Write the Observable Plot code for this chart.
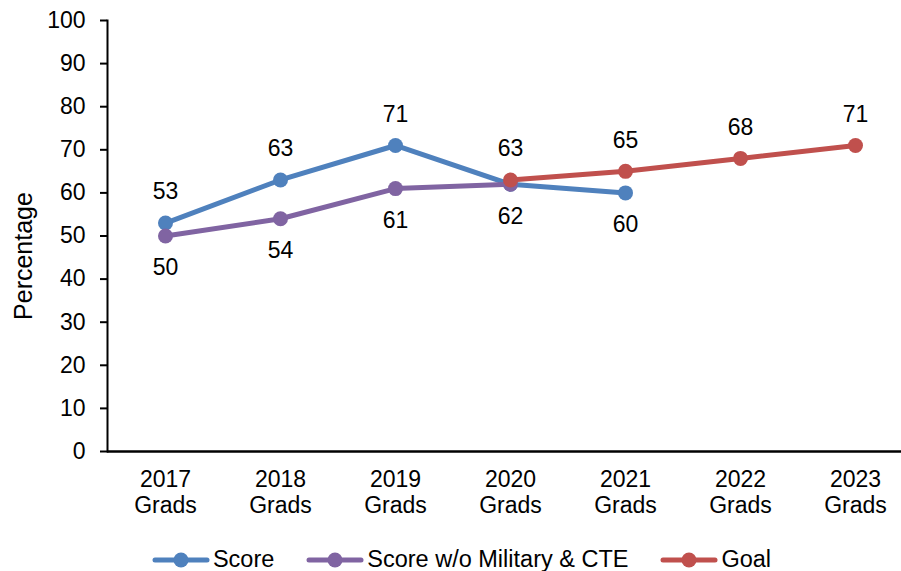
<!DOCTYPE html>
<html><head><meta charset="utf-8">
<script src="https://cdn.jsdelivr.net/npm/d3@7"></script>
<script src="https://cdn.jsdelivr.net/npm/@observablehq/plot@0.6"></script>
<style>
body{margin:0;background:#fff;font-family:"Liberation Sans",Arial,sans-serif;}
#wrap{position:relative;width:901px;height:571px;}
#legend{position:absolute;left:0;top:546px;width:901px;display:flex;justify-content:center;align-items:center;font-size:23.5px;color:#000;padding-left:22px;box-sizing:border-box;}
.item{display:flex;align-items:center;margin:0 16px;}
.item span{margin-left:3px;}
</style></head><body>
<div id="wrap"><div id="chart"></div><div id="legend"></div></div>
<script>
const categories = ["2017 Grads","2018 Grads","2019 Grads","2020 Grads","2021 Grads","2022 Grads","2023 Grads"];
const seriesNames = ["Score","Score w/o Military & CTE","Goal"];
const scoreValues = [53, 63, 71, 62, 60, null, null];
const scoreNoMilValues = [50, 54, 61, 62, null, null, null];
const goalValues = [null, null, null, 63, 65, 68, 71];
// label placement per point: "above", "below", or null (no label)
const scoreLabelPos = ["above","above","above","below","below",null,null];
const scoreNoMilLabelPos = ["below","below","below",null,null,null,null];
const goalLabelPos = [null,null,null,"above","above","above","above"];
const yTicks = d3.range(0, 101, 10);
const colors = ["#4F81BD", "#8064A2", "#C0504D"];

const valueSets = [scoreValues, scoreNoMilValues, goalValues];
const posSets = [scoreLabelPos, scoreNoMilLabelPos, goalLabelPos];
const rows = [];
valueSets.forEach((vals, s) => vals.forEach((v, i) => {
  if (v != null) rows.push({series: seriesNames[s], cat: categories[i], value: v, pos: posSets[s][i]});
}));

const FS = 23;
const marks = [
  Plot.frame({anchor: "left", stroke: "#000", strokeWidth: 2}),
  Plot.ruleY([0], {stroke: "#000", strokeWidth: 2.5}),
  Plot.axisY({ticks: yTicks, tickSize: 7, tickPadding: 15, fontSize: FS, tickFormat: d => String(d), stroke: "#000", strokeWidth: 2}),
  Plot.axisX({tickSize: 0, tickPadding: 18, fontSize: FS, lineHeight: 1.1, tickFormat: d => d.replace(" ", "\n")}),
];
seriesNames.forEach((name, s) => {
  const data = rows.filter(r => r.series === name);
  marks.push(Plot.line(data, {x: "cat", y: "value", stroke: colors[s], strokeWidth: 5}));
  marks.push(Plot.dot(data, {x: "cat", y: "value", fill: colors[s], r: 7.5, stroke: "none"}));
});
marks.push(Plot.text(rows.filter(r => r.pos === "above"), {x: "cat", y: "value", text: d => String(d.value), dy: -31, fontSize: FS, fill: "#000"}));
marks.push(Plot.text(rows.filter(r => r.pos === "below"), {x: "cat", y: "value", text: d => String(d.value), dy: 32, fontSize: FS, fill: "#000"}));

const chart = Plot.plot({
  width: 901,
  height: 535,
  marginLeft: 107,
  marginRight: 0,
  marginTop: 20,
  marginBottom: 84,
  style: {fontFamily: "Liberation Sans, Arial, sans-serif", fontSize: FS + "px", color: "#000", background: "#fff"},
  x: {type: "point", domain: categories, range: [164.5, 855], padding: 0, label: null},
  y: {domain: [0, 100], label: null},
  marks
});
document.getElementById("chart").appendChild(chart);

// y axis title
const svg = d3.select(chart);
svg.append("text")
  .attr("transform", "translate(32,256) rotate(-90)")
  .attr("text-anchor", "middle")
  .attr("font-size", 25)
  .attr("fill", "#000")
  .text("Percentage");

// legend
const legend = d3.select("#legend");
seriesNames.forEach((name, s) => {
  const it = legend.append("div").attr("class", "item");
  const sv = it.append("svg").attr("width", 58).attr("height", 18);
  sv.append("line").attr("x1", 3).attr("x2", 55).attr("y1", 9).attr("y2", 9)
    .attr("stroke", colors[s]).attr("stroke-width", 5).attr("stroke-linecap", "round");
  sv.append("circle").attr("cx", 29).attr("cy", 9).attr("r", 7.5).attr("fill", colors[s]);
  it.append("span").text(name);
});
</script>
</body></html>
